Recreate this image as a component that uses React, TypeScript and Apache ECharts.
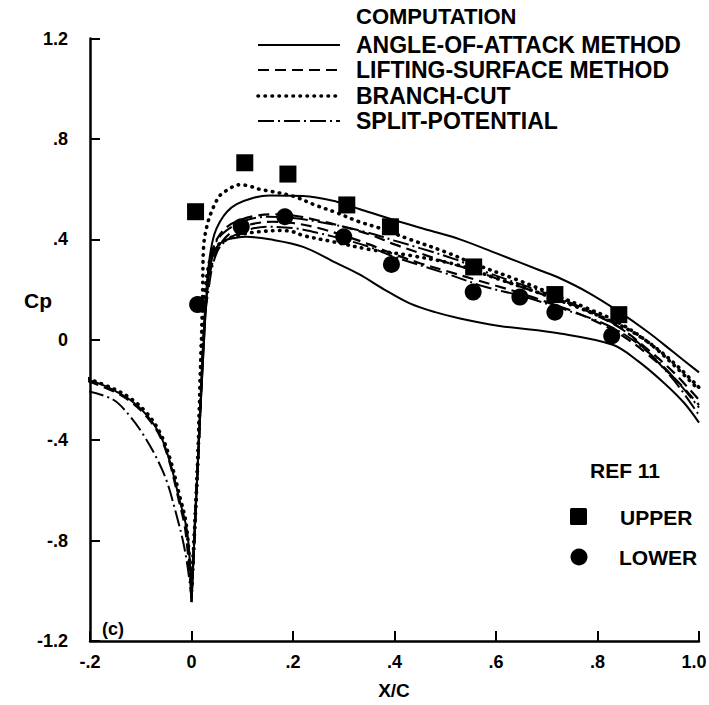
import React, { useEffect, useRef } from "react";
import * as echarts from "echarts";

// ---- data ----
const xTickMin = -0.2;
const xTickMax = 1.0;
const yTickMin = -1.2;
const yTickMax = 1.2;

// Angle-of-attack method (solid)
const aoaLeft = [[-0.204, -0.16], [-0.18, -0.176], [-0.154, -0.2], [-0.121, -0.239], [-0.089, -0.298], [-0.062, -0.378], [-0.043, -0.483], [-0.023, -0.642], [-0.01, -0.748], [-0.004, -0.86], [0, -1.045]];
const aoaUpper = [[0, -1.045], [0.013, -0.47], [0.026, 0.05], [0.031, 0.22], [0.036, 0.33], [0.045, 0.42], [0.056, 0.47], [0.07, 0.51], [0.089, 0.54], [0.121, 0.565], [0.154, 0.575], [0.22, 0.573], [0.286, 0.55], [0.332, 0.52], [0.41, 0.47], [0.47, 0.435], [0.529, 0.4], [0.6, 0.345], [0.686, 0.277], [0.726, 0.245], [0.78, 0.19], [0.84, 0.115], [0.9, 0.03], [0.95, -0.05], [1.0, -0.13]];
const aoaLower = [[0, -1.045], [0.013, -0.47], [0.026, 0.05], [0.032, 0.22], [0.04, 0.32], [0.05, 0.37], [0.065, 0.395], [0.085, 0.405], [0.108, 0.41], [0.154, 0.4], [0.22, 0.37], [0.286, 0.305], [0.331, 0.26], [0.38, 0.2], [0.43, 0.145], [0.48, 0.11], [0.529, 0.085], [0.607, 0.055], [0.726, 0.025], [0.83, -0.02], [0.88, -0.085], [0.93, -0.17], [0.97, -0.25], [1.0, -0.33]];

// Lifting-surface method (dashed)
const lsmLeft = [[-0.204, -0.165], [-0.154, -0.205], [-0.121, -0.245], [-0.089, -0.305], [-0.062, -0.385], [-0.043, -0.49], [-0.025, -0.64], [-0.012, -0.76], [0, -1.02]];
const lsmUpper = [[0, -1.02], [0.013, -0.47], [0.025, 0.05], [0.032, 0.25], [0.04, 0.34], [0.05, 0.4], [0.07, 0.45], [0.1, 0.48], [0.13, 0.495], [0.16, 0.5], [0.2, 0.495], [0.25, 0.475], [0.3, 0.45], [0.35, 0.42], [0.4, 0.38], [0.45, 0.345], [0.5, 0.31], [0.55, 0.28], [0.6, 0.245], [0.65, 0.21], [0.7, 0.175], [0.75, 0.14], [0.8, 0.095], [0.85, 0.04], [0.9, -0.04], [0.95, -0.13], [1.0, -0.24]];
const lsmLower = [[0, -1.02], [0.013, -0.47], [0.025, 0.05], [0.034, 0.24], [0.045, 0.33], [0.06, 0.39], [0.08, 0.43], [0.1, 0.45], [0.13, 0.465], [0.16, 0.47], [0.2, 0.465], [0.25, 0.445], [0.3, 0.415], [0.35, 0.38], [0.4, 0.34], [0.45, 0.305], [0.5, 0.275], [0.55, 0.245], [0.6, 0.215], [0.65, 0.185], [0.7, 0.15], [0.75, 0.115], [0.8, 0.07], [0.85, 0.015], [0.9, -0.06], [0.95, -0.15], [1.0, -0.26]];

// Branch-cut (dotted)
const bcLeft = [[-0.204, -0.155], [-0.154, -0.195], [-0.121, -0.232], [-0.089, -0.29], [-0.062, -0.37], [-0.043, -0.47], [-0.023, -0.625], [-0.01, -0.74], [0, -1.0]];
const bcUpper = [[0, -1.0], [0.012, -0.5], [0.019, -0.05], [0.022, 0.2], [0.024, 0.376], [0.031, 0.458], [0.039, 0.508], [0.046, 0.54], [0.056, 0.575], [0.072, 0.598], [0.092, 0.617], [0.111, 0.614], [0.133, 0.6], [0.154, 0.592], [0.2, 0.572], [0.243, 0.537], [0.286, 0.506], [0.329, 0.471], [0.37, 0.445], [0.43, 0.4], [0.5, 0.35], [0.56, 0.3], [0.64, 0.24], [0.72, 0.175], [0.78, 0.125], [0.84, 0.07], [0.9, -0.01], [0.95, -0.1], [1.0, -0.2]];
const bcLower = [[0, -1.0], [0.012, -0.5], [0.02, 0.0], [0.03, 0.25], [0.045, 0.36], [0.07, 0.4], [0.1, 0.42], [0.131, 0.43], [0.177, 0.435], [0.2, 0.43], [0.22, 0.415], [0.28, 0.39], [0.35, 0.36], [0.43, 0.336], [0.52, 0.3], [0.6, 0.245], [0.68, 0.19], [0.76, 0.13], [0.82, 0.08], [0.87, 0.03], [0.92, -0.04], [0.96, -0.11], [1.0, -0.19]];

// Split-potential (dash-dot)
const spLeft = [[-0.204, -0.205], [-0.154, -0.239], [-0.121, -0.305], [-0.095, -0.378], [-0.069, -0.47], [-0.049, -0.562], [-0.03, -0.695], [-0.017, -0.8], [-0.008, -0.9], [0, -1.03]];
const spUpper = [[0, -1.03], [0.013, -0.47], [0.025, 0.05], [0.032, 0.25], [0.04, 0.35], [0.06, 0.42], [0.1, 0.47], [0.15, 0.49], [0.2, 0.485], [0.25, 0.47], [0.3, 0.45], [0.35, 0.425], [0.4, 0.395], [0.45, 0.365], [0.52, 0.32], [0.58, 0.27], [0.65, 0.22], [0.7, 0.185], [0.75, 0.145], [0.8, 0.1], [0.85, 0.04], [0.9, -0.05], [0.95, -0.16], [1.0, -0.3]];
const spLower = [[0, -1.03], [0.013, -0.47], [0.025, 0.05], [0.035, 0.22], [0.045, 0.32], [0.06, 0.38], [0.1, 0.43], [0.15, 0.45], [0.2, 0.445], [0.25, 0.425], [0.3, 0.4], [0.35, 0.37], [0.4, 0.33], [0.5, 0.265], [0.58, 0.21], [0.65, 0.175], [0.72, 0.13], [0.8, 0.075], [0.85, 0.025], [0.9, -0.05], [0.95, -0.15], [1.0, -0.27]];

// Ref 11 experiment
const upperX = [0.008, 0.105, 0.19, 0.306, 0.392, 0.556, 0.716, 0.842];
const upperY = [0.51, 0.705, 0.66, 0.537, 0.45, 0.29, 0.18, 0.1];
const lowerX = [0.012, 0.098, 0.184, 0.3, 0.394, 0.555, 0.647, 0.716, 0.828];
const lowerY = [0.14, 0.45, 0.49, 0.41, 0.3, 0.19, 0.17, 0.11, 0.015];

const legendLabels = ["ANGLE-OF-ATTACK METHOD", "LIFTING-SURFACE METHOD", "BRANCH-CUT", "SPLIT-POTENTIAL"];

const FONT = '"Liberation Sans", Arial, sans-serif';

const fmt = (v: number) => {
  const r = Math.round(v * 10) / 10;
  if (r === 0) return "0";
  if (r === 1) return "{e|1.0}";
  if (Math.abs(r) >= 1) return r.toFixed(1);
  return r.toFixed(1).replace("0.", ".");
};

const SOLID: any = { type: "solid", width: 2 };
const DASHED: any = { type: [11, 6], width: 2.2 };
const DOTTED: any = { type: [0.5, 6.5], width: 3.6, cap: "round" };
const DASHDOT: any = { type: [16, 4, 2, 4], width: 2 };

function lineSeries(data: number[][], style: any) {
  return {
    type: "line",
    data,
    showSymbol: false,
    symbol: "none",
    smooth: 0.35,
    lineStyle: { color: "#000", ...style },
    silent: true,
    z: 2,
  };
}

const txt = (text: string, x: number, y: number, size = 21, extra: any = {}) => ({
  type: "text",
  x,
  y,
  style: { text, fontSize: size, fontFamily: FONT, fontWeight: "bold", fill: "#000", verticalAlign: "middle", ...extra },
});

export default function App() {
  const ref = useRef<HTMLDivElement>(null);
  useEffect(() => {
    if (!ref.current) return;
    const chart = echarts.init(ref.current, null, { renderer: "svg" });
    const styles = [SOLID, DASHED, DOTTED, DASHDOT];
    const legendRows = [45, 70, 96, 121];
    const graphic: any[] = [txt("COMPUTATION", 356, 16, 22)];
    legendLabels.forEach((t, i) => {
      const s = styles[i];
      const dash = Array.isArray(s.type) ? s.type : undefined;
      graphic.push({
        type: "line",
        shape: { x1: 258, y1: legendRows[i], x2: 340, y2: legendRows[i] },
        style: { stroke: "#000", lineWidth: s.width, lineDash: dash, lineCap: s.cap || "butt" },
      });
      graphic.push(txt(t, 356, legendRows[i], 23));
    });
    graphic.push(
      txt("REF 11", 590, 470),
      { type: "rect", shape: { x: 570, y: 508, width: 17, height: 17, r: 1.5 }, style: { fill: "#000" } },
      txt("UPPER", 620, 517),
      { type: "circle", shape: { cx: 579, cy: 557, r: 8.5 }, style: { fill: "#000" } },
      txt("LOWER", 619, 557),
      txt("(c)", 102, 629, 18),
      txt("Cp", 24, 300, 21),
      txt("X/C", 394, 690, 19, { align: "center" })
    );

    const axisCommon = {
      axisLine: { show: true, onZero: false, lineStyle: { color: "#000", width: 2.5 } },
      axisTick: { show: true, inside: true, length: 10, lineStyle: { color: "#000", width: 2 } },
      splitLine: { show: false },
      axisLabel: {
        color: "#000",
        fontSize: 18,
        fontWeight: "bold",
        fontFamily: FONT,
        formatter: fmt,
        rich: { e: { fontSize: 18, fontWeight: "bold", fontFamily: FONT, color: "#000", padding: [0, 10, 0, 0] } },
      },
    };

    chart.setOption({
      animation: false,
      backgroundColor: "#fff",
      grid: { left: 90, right: 10, top: 38.5, bottom: 64, containLabel: false, outerBoundsMode: "none" },
      xAxis: {
        type: "value",
        min: xTickMin,
        max: xTickMax,
        interval: 0.2,
        ...axisCommon,
        axisLabel: { ...axisCommon.axisLabel, margin: 12 },
      },
      yAxis: {
        type: "value",
        min: yTickMin,
        max: yTickMax,
        interval: 0.4,
        ...axisCommon,
        axisLabel: { ...axisCommon.axisLabel, margin: 22 },
      },
      graphic,
      series: [
        lineSeries(aoaLeft, SOLID),
        lineSeries(aoaUpper, SOLID),
        lineSeries(aoaLower, SOLID),
        lineSeries(lsmLeft, DASHED),
        lineSeries(lsmUpper, DASHED),
        lineSeries(lsmLower, DASHED),
        lineSeries(bcLeft, DOTTED),
        lineSeries(bcUpper, DOTTED),
        lineSeries(bcLower, DOTTED),
        lineSeries(spLeft, DASHDOT),
        lineSeries(spUpper, DASHDOT),
        lineSeries(spLower, DASHDOT),
        {
          type: "scatter",
          symbol: "rect",
          symbolSize: 17,
          itemStyle: { color: "#000", opacity: 1 },
          data: upperX.map((x, i) => [x, upperY[i]]),
          z: 3,
          silent: true,
        },
        {
          type: "scatter",
          symbol: "circle",
          symbolSize: 17,
          itemStyle: { color: "#000", opacity: 1 },
          data: lowerX.map((x, i) => [x, lowerY[i]]),
          z: 3,
          silent: true,
        },
      ],
    });
    return () => chart.dispose();
  }, []);
  return <div ref={ref} style={{ width: 709, height: 705, position: "absolute", left: 0, top: 0 }} />;
}
